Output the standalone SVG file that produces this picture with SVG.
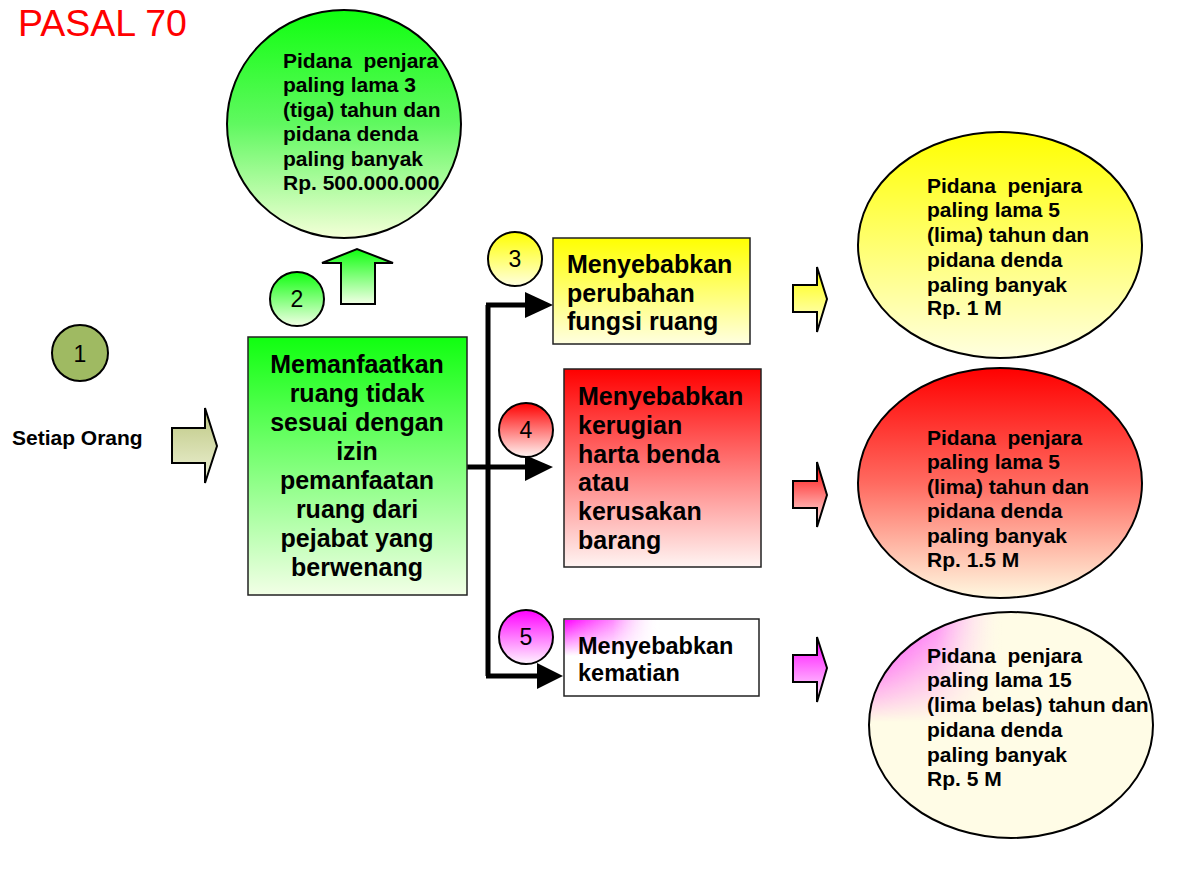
<svg xmlns="http://www.w3.org/2000/svg" width="1191" height="870" viewBox="0 0 1191 870">
<defs>
<style>
text{font-family:"Liberation Sans",Arial,sans-serif;fill:#000}
.b{font-weight:bold}
.t21{font-size:21px;font-weight:bold}
.t25{font-size:25px;font-weight:bold}
.num{font-size:23px}
.ol{stroke:#000;stroke-width:2}
.bx{stroke:#222;stroke-width:1.5}
.con{fill:none;stroke:#000;stroke-width:5}
.head{fill:#000}
</style>
<linearGradient id="gGreen" x1="0" y1="0" x2="0" y2="1"><stop offset="0" stop-color="#10FF10"/><stop offset="1" stop-color="#F2FFE6"/></linearGradient>
<linearGradient id="gGreenE" x1="0" y1="0" x2="0" y2="1"><stop offset="0" stop-color="#10FF10"/><stop offset="0.5" stop-color="#60F860"/><stop offset="1" stop-color="#F4FFD8"/></linearGradient>
<linearGradient id="gYel" x1="0" y1="0" x2="0" y2="1"><stop offset="0" stop-color="#FFFF00"/><stop offset="1" stop-color="#FFFFE0"/></linearGradient>
<linearGradient id="gRed" x1="0" y1="0" x2="0" y2="1"><stop offset="0" stop-color="#FF0000"/><stop offset="1" stop-color="#FFF4F2"/></linearGradient>
<linearGradient id="gRedE" x1="0" y1="0" x2="0" y2="1"><stop offset="0" stop-color="#FF0000"/><stop offset="0.5" stop-color="#FF6A60"/><stop offset="1" stop-color="#FFF8E0"/></linearGradient>
<linearGradient id="gMag" x1="0" y1="0" x2="0" y2="1"><stop offset="0" stop-color="#FF00FF"/><stop offset="1" stop-color="#FFF4FF"/></linearGradient>
<linearGradient id="gOlive" x1="0" y1="0" x2="0" y2="1"><stop offset="0" stop-color="#BCC680"/><stop offset="1" stop-color="#EEF2D6"/></linearGradient>
<linearGradient id="gPatchH" x1="0" y1="0" x2="1" y2="0"><stop offset="0" stop-color="#FF00FF" stop-opacity="1"/><stop offset="0.5" stop-color="#FF55FF" stop-opacity="0.7"/><stop offset="1" stop-color="#FFFFFF" stop-opacity="0"/></linearGradient>
<linearGradient id="gMaskV" x1="0" y1="0" x2="0" y2="1"><stop offset="0" stop-color="#fff"/><stop offset="1" stop-color="#000"/></linearGradient>
<mask id="mPatchE" maskContentUnits="userSpaceOnUse"><rect x="869" y="612" width="135" height="110" fill="url(#gMaskV)"/></mask>
<mask id="mPatchB" maskContentUnits="userSpaceOnUse"><rect x="565" y="620" width="95" height="36" fill="url(#gMaskV)"/></mask>
<clipPath id="cE5"><ellipse cx="1011" cy="725" rx="142" ry="113"/></clipPath>
</defs>
<rect width="1191" height="870" fill="#fff"/>

<text x="18" y="36" style="font-size:37.5px;fill:#FF0000">PASAL 70</text>

<g id="connectors">
<path class="con" d="M467,467 H527"/>
<path class="con" d="M488,305 V676"/>
<path class="con" d="M486,305 H527"/>
<path class="con" d="M486,676 H539"/>
<polygon class="head" points="525,292 553,305 525,318"/>
<polygon class="head" points="525,455 553,467 525,481"/>
<polygon class="head" points="537,663 563,676 537,689"/>
</g>

<g id="n-title-ellipse">
<ellipse cx="344" cy="124" rx="117" ry="114" fill="url(#gGreenE)" class="ol"/>
<text class="t21" xml:space="preserve"><tspan x="283" y="68">Pidana  penjara</tspan><tspan x="283" y="92">paling lama 3</tspan><tspan x="283" y="117">(tiga) tahun dan</tspan><tspan x="283" y="141">pidana denda</tspan><tspan x="283" y="166">paling banyak</tspan><tspan x="283" y="190">Rp. 500.000.000</tspan></text>
</g>

<g id="n-up-arrow">
<polygon points="341,304 341,263 322,263 357,249 393,263 375,263 375,304" fill="url(#gGreen)" class="ol"/>
</g>

<g id="n-c1">
<circle cx="80" cy="353" r="28" fill="#9FBA62" class="ol"/>
<text x="80" y="362" class="num" text-anchor="middle">1</text>
</g>

<g id="n-setiap">
<text x="12" y="445" class="t21">Setiap Orang</text>
</g>

<g id="n-arrow1">
<polygon points="172,428 205,428 205,408 217,446 205,483 205,463 172,463" fill="url(#gOlive)" class="ol"/>
</g>

<g id="n-c2">
<circle cx="297" cy="299" r="27" fill="url(#gGreen)" class="ol"/>
<text x="297" y="307" class="num" text-anchor="middle">2</text>
</g>

<g id="n-main">
<rect x="248" y="337" width="219" height="258" fill="url(#gGreen)" class="bx"/>
<text class="t25" text-anchor="middle"><tspan x="357" y="373">Memanfaatkan</tspan><tspan x="357" y="402">ruang tidak</tspan><tspan x="357" y="431">sesuai dengan</tspan><tspan x="357" y="460">izin</tspan><tspan x="357" y="489">pemanfaatan</tspan><tspan x="357" y="518">ruang dari</tspan><tspan x="357" y="547">pejabat yang</tspan><tspan x="357" y="576">berwenang</tspan></text>
</g>

<g id="n-c3">
<circle cx="515" cy="259" r="27" fill="url(#gYel)" class="ol"/>
<text x="515" y="267" class="num" text-anchor="middle">3</text>
</g>

<g id="n-box3">
<rect x="553" y="238" width="197" height="106" fill="url(#gYel)" class="bx"/>
<text class="t25"><tspan x="567" y="273">Menyebabkan</tspan><tspan x="567" y="302">perubahan</tspan><tspan x="567" y="330">fungsi ruang</tspan></text>
</g>

<g id="n-c4">
<circle cx="526" cy="430" r="27" fill="url(#gRed)" class="ol"/>
<text x="526" y="438" class="num" text-anchor="middle">4</text>
</g>

<g id="n-box4">
<rect x="564" y="369" width="197" height="198" fill="url(#gRed)" class="bx"/>
<text class="t25"><tspan x="578" y="405">Menyebabkan</tspan><tspan x="578" y="434">kerugian</tspan><tspan x="578" y="463">harta benda</tspan><tspan x="578" y="491">atau</tspan><tspan x="578" y="520">kerusakan</tspan><tspan x="578" y="549">barang</tspan></text>
</g>

<g id="n-c5">
<circle cx="526" cy="637" r="27" fill="url(#gMag)" class="ol"/>
<text x="526" y="645" class="num" text-anchor="middle">5</text>
</g>

<g id="n-box5">
<rect x="564" y="619" width="195" height="77" fill="#fff" class="bx"/>
<rect x="565" y="620" width="95" height="36" fill="url(#gPatchH)" mask="url(#mPatchB)"/>
<text style="font-size:23.5px" class="b"><tspan x="578" y="654">Menyebabkan</tspan><tspan x="578" y="681">kematian</tspan></text>
</g>

<g id="n-arrow3">
<polygon points="793,285 817,285 817,267 827,299 817,332 817,312 793,312" fill="url(#gYel)" class="ol"/>
</g>
<g id="n-arrow4">
<polygon points="793,481 817,481 817,462 827,495 817,527 817,508 793,508" fill="url(#gRed)" class="ol"/>
</g>
<g id="n-arrow5">
<polygon points="793,655 817,655 817,637 827,668 817,702 817,682 793,682" fill="url(#gMag)" class="ol"/>
</g>

<g id="n-e3">
<ellipse cx="1000" cy="245" rx="142" ry="113" fill="url(#gYel)" class="ol"/>
<text class="t21" xml:space="preserve"><tspan x="927" y="193">Pidana  penjara</tspan><tspan x="927" y="217">paling lama 5</tspan><tspan x="927" y="242">(lima) tahun dan</tspan><tspan x="927" y="267">pidana denda</tspan><tspan x="927" y="292">paling banyak</tspan><tspan x="927" y="315">Rp. 1 M</tspan></text>
</g>

<g id="n-e4">
<ellipse cx="1000" cy="483" rx="142" ry="115" fill="url(#gRedE)" class="ol"/>
<text class="t21" xml:space="preserve"><tspan x="927" y="445">Pidana  penjara</tspan><tspan x="927" y="469">paling lama 5</tspan><tspan x="927" y="494">(lima) tahun dan</tspan><tspan x="927" y="518">pidana denda</tspan><tspan x="927" y="543">paling banyak</tspan><tspan x="927" y="567">Rp. 1.5 M</tspan></text>
</g>

<g id="n-e5">
<ellipse cx="1011" cy="725" rx="142" ry="113" fill="#FFFCE6"/>
<g clip-path="url(#cE5)"><rect x="869" y="612" width="135" height="110" fill="url(#gPatchH)" mask="url(#mPatchE)"/></g>
<ellipse cx="1011" cy="725" rx="142" ry="113" fill="none" class="ol"/>
<text class="t21" xml:space="preserve"><tspan x="927" y="663">Pidana  penjara</tspan><tspan x="927" y="687">paling lama 15</tspan><tspan x="927" y="712">(lima belas) tahun dan</tspan><tspan x="927" y="737">pidana denda</tspan><tspan x="927" y="762">paling banyak</tspan><tspan x="927" y="786">Rp. 5 M</tspan></text>
</g>
</svg>
